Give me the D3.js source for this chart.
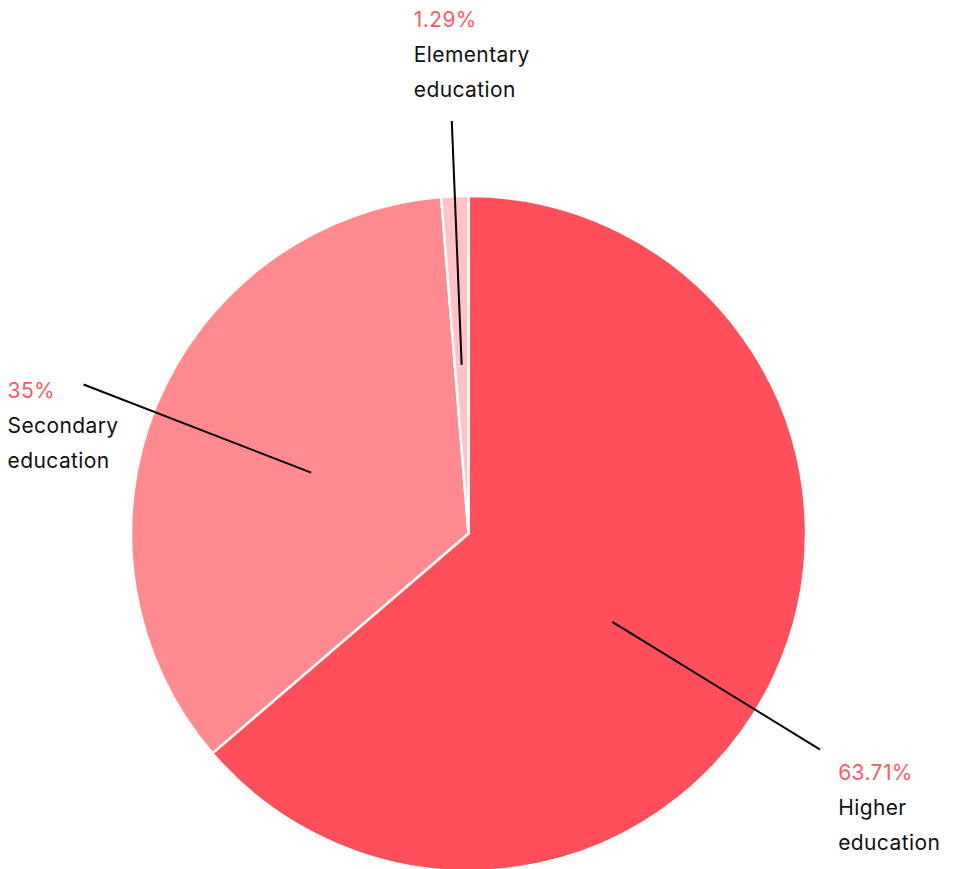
<!DOCTYPE html>
<html><head><meta charset="utf-8">
<script src="https://cdn.jsdelivr.net/npm/d3@7"></script>
<style>body{margin:0;background:#fff}svg{display:block}</style>
</head><body>
<svg id="c" width="953" height="869"></svg>
<script>
const categories = ["Higher education", "Secondary education", "Elementary education"];
const values = [63.71, 35, 1.29];
const valueLabels = ["63.71%", "35%", "1.29%"];
const colors = ["#ff4f5a", "#ff8a8f", "#ffc2c6"];

const svg = d3.select("#c");
const cx = 468.5, cy = 533.5, R = 337.5;
const g = svg.append("g").attr("transform", `translate(${cx},${cy})`);

const pie = d3.pie().sort(null).value(d => d.v);
const data = pie(categories.map((c, i) => ({c, v: values[i], l: valueLabels[i], col: colors[i]})));
const arc = d3.arc().innerRadius(0).outerRadius(R);

g.selectAll("path").data(data).join("path")
  .attr("d", arc).attr("fill", d => d.data.col)
  .attr("stroke", "#fff").attr("stroke-width", 2.5).attr("stroke-linejoin", "bevel");

// label layout: angle nudge (deg) and text offset relative to outer leader end
const layout = [
  {nudge: 6.9, dx: 18, dy: 30},
  {nudge: -1.2, dx: -76, dy: 13},
  {nudge: 0, dx: -38, dy: -94}
];
const lines = 35;
data.forEach((d, i) => {
  const a = (d.startAngle + d.endAngle) / 2 + layout[i].nudge * Math.PI / 180;
  const p = r => [Math.sin(a) * r, -Math.cos(a) * r];
  const p1 = p(R * 0.5), p2 = p(R * 1.223);
  g.append("line").attr("x1", p1[0]).attr("y1", p1[1]).attr("x2", p2[0]).attr("y2", p2[1])
    .attr("stroke", "#000").attr("stroke-width", 2);
  const tx = p2[0] + layout[i].dx, ty = p2[1] + layout[i].dy;
  const words = d.data.c.split(" ");
  const t = g.append("text").attr("x", tx).attr("y", ty)
    .attr("font-family", "Inter, 'Noto Sans', sans-serif").attr("font-size", 21)
    .attr("letter-spacing", 0.4);
  t.append("tspan").attr("x", tx).attr("dy", 0).attr("fill", "#ff5a63").text(d.data.l);
  words.forEach(w => t.append("tspan").attr("x", tx).attr("dy", lines).attr("fill", "#111").text(w));
});
</script>
</body></html>
